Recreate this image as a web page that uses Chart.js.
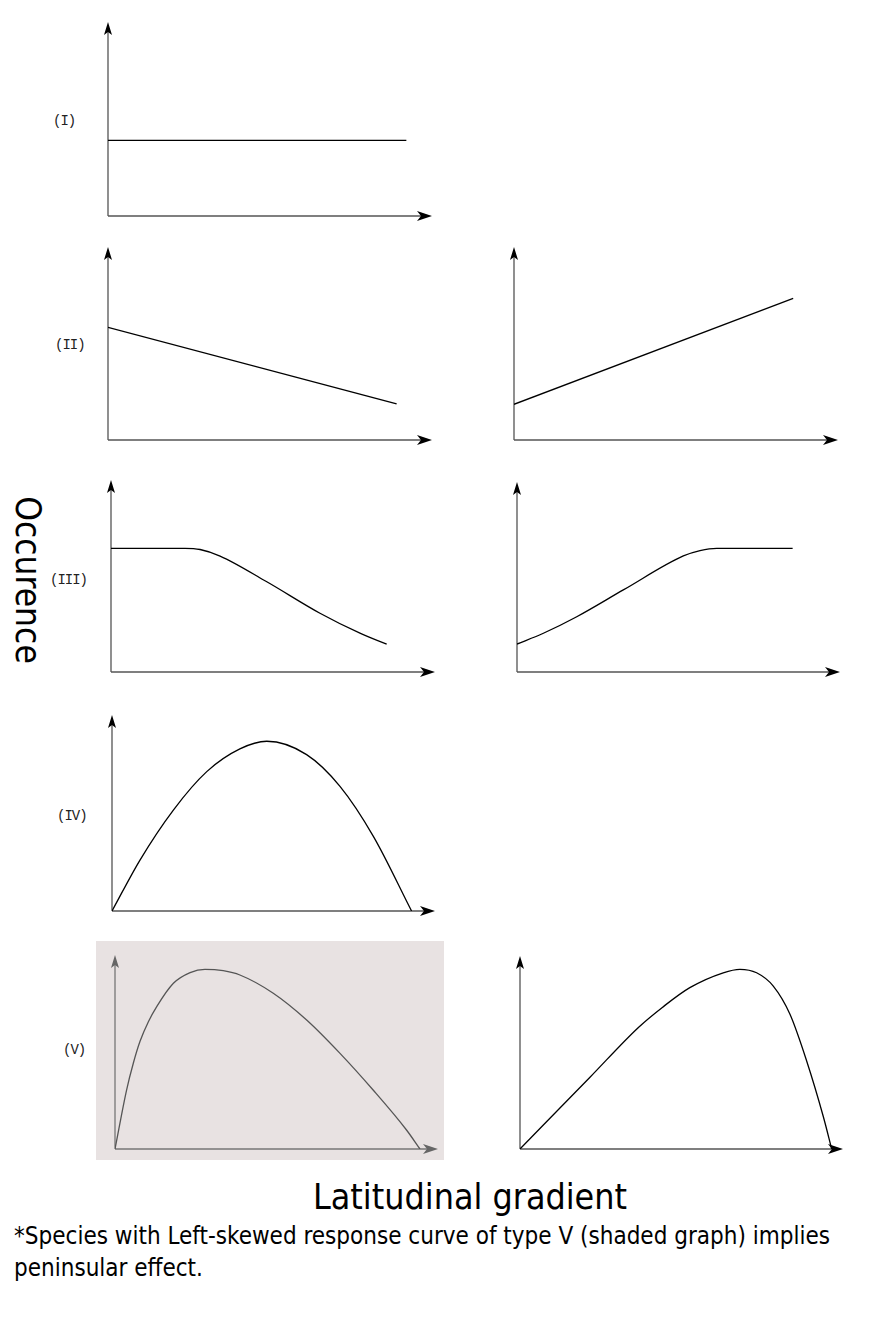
<!DOCTYPE html>
<html>
<head>
<meta charset="utf-8">
<script src="https://cdn.jsdelivr.net/npm/chart.js@4.4.1/dist/chart.umd.min.js"></script>
<style>
  html, body { margin: 0; padding: 0; background: #fff; }
  #page { position: relative; width: 870px; height: 1323px; overflow: hidden; }
  canvas { position: absolute; }
  .lbl { position: absolute; font-family: "Liberation Mono", "DejaVu Sans Mono", monospace; font-size: 14px;
         letter-spacing: -1px; color: #222; line-height: 16px; }
  .shade { position: absolute; background: #e8e2e2; }
  .cond { font-family: "DejaVu Sans Condensed", "DejaVu Sans", sans-serif; font-stretch: condensed; color: #000; white-space: nowrap; }
  #ylab { position: absolute; left: 28px; top: 580px; transform: translate(-50%, -50%) rotate(90deg); font-size: 35px; }
  #xlab { position: absolute; left: 313px; top: 1175px; font-size: 35.5px; line-height: 44px; }
  #note { position: absolute; left: 14px; top: 1220px; font-size: 24px; line-height: 32px; }
</style>
</head>
<body>
<div id="page">
  <div class="shade" style="left:96px; top:941px; width:348px; height:219px;"></div>
  <div id="ylab" class="cond">Occurence</div>
  <div id="xlab" class="cond">Latitudinal gradient</div>
  <div id="note" class="cond">*Species with Left-skewed response curve of type V (shaded graph) implies<br>peninsular effect.</div>
</div>
<script>
// response curves: x = position along the latitudinal gradient (0..12), y = occurrence (0..10)
const typeI      = [{x: 0, y: 3.9}, {x: 11.05, y: 3.9}];
const typeIIdown = [{x: 0, y: 5.84}, {x: 10.69, y: 1.87}];
const typeIIup   = [{x: 0, y: 1.85}, {x: 10.34, y: 7.34}];
const typeIIIdown = [
    {x: 0, y: 6.44}, {x: 2.74, y: 6.44}, {x: 3.30, y: 6.38}, {x: 4.04, y: 6.04},
    {x: 5.77, y: 4.70}, {x: 7.74, y: 3.06}, {x: 9.22, y: 2.02}, {x: 10.21, y: 1.45}
];
const typeIIIup = [
    {x: 0, y: 1.47}, {x: 0.98, y: 2.04}, {x: 2.22, y: 2.91}, {x: 3.95, y: 4.32},
    {x: 6.18, y: 6.11}, {x: 6.80, y: 6.39}, {x: 7.42, y: 6.51}, {x: 10.24, y: 6.51}
];
const typeIV = [
    {x: 0, y: 0}, {x: 1.04, y: 2.60}, {x: 2.28, y: 5.15}, {x: 3.52, y: 7.11},
    {x: 4.75, y: 8.27}, {x: 5.75, y: 8.66}, {x: 7.23, y: 7.98}, {x: 8.47, y: 6.36},
    {x: 9.71, y: 3.81}, {x: 11.13, y: 0}
];
const typeVleft = [
    {x: 0, y: 0}, {x: 0.43, y: 3.04}, {x: 0.68, y: 4.42}, {x: 0.93, y: 5.55},
    {x: 1.24, y: 6.56}, {x: 1.55, y: 7.34}, {x: 2.17, y: 8.54}, {x: 2.79, y: 9.09},
    {x: 3.34, y: 9.26}, {x: 4.02, y: 9.19}, {x: 4.64, y: 8.97}, {x: 5.88, y: 8.03},
    {x: 7.12, y: 6.65}, {x: 8.36, y: 4.93}, {x: 9.59, y: 3.04}, {x: 10.83, y: 0.98},
    {x: 11.33, y: 0}
];
const typeVright = [
    {x: 0, y: 0}, {x: 2.60, y: 3.72}, {x: 4.40, y: 6.30}, {x: 5.30, y: 7.35},
    {x: 6.31, y: 8.36}, {x: 7.55, y: 9.13}, {x: 8.17, y: 9.31}, {x: 8.79, y: 9.13},
    {x: 9.41, y: 8.44}, {x: 10.03, y: 6.98}, {x: 10.65, y: 4.56}, {x: 11.27, y: 1.67},
    {x: 11.58, y: 0}
];
const xMax = 12;
const yMax = 10;

const typeLabels = ['(I)', '(II)', '(III)', '(IV)', '(V)'];

// where each little graph sits on the page: axis origin and arrow tips
const panels = [
    { data: typeI,       ox: 108, oy: 216,  tx: 432, ty: 22 },
    { data: typeIIdown,  ox: 108, oy: 440,  tx: 432, ty: 247 },
    { data: typeIIup,    ox: 514, oy: 440,  tx: 838, ty: 247 },
    { data: typeIIIdown, ox: 111, oy: 672,  tx: 435, ty: 480, smooth: true },
    { data: typeIIIup,   ox: 517, oy: 672,  tx: 840, ty: 482, smooth: true },
    { data: typeIV,      ox: 112, oy: 911,  tx: 435, ty: 715, smooth: true },
    { data: typeVleft,   ox: 115, oy: 1149, tx: 438, ty: 955, smooth: true, grey: true },
    { data: typeVright,  ox: 520, oy: 1149, tx: 843, ty: 956, smooth: true }
];
const labelPos = [[53, 121], [55, 345], [50, 580], [57, 816], [63, 1050]];

const page = document.getElementById('page');
typeLabels.forEach(function (t, i) {
    const d = document.createElement('div');
    d.className = 'lbl';
    d.textContent = t;
    d.style.left = labelPos[i][0] + 'px';
    d.style.top = (labelPos[i][1] - 8) + 'px';
    page.appendChild(d);
});

// axes with arrow heads, drawn from the chart's own scales
const arrowAxes = {
    id: 'arrowAxes',
    beforeDatasetsDraw(chart, args, opts) {
        const ctx = chart.ctx;
        const xs = chart.scales.x, ys = chart.scales.y;
        const x0 = xs.getPixelForValue(0), x1 = xs.getPixelForValue(xMax);
        const y0 = ys.getPixelForValue(0), y1 = ys.getPixelForValue(yMax);
        ctx.save();
        ctx.strokeStyle = opts.lineColor;
        ctx.lineWidth = 1.3;
        ctx.beginPath();
        ctx.moveTo(x0, y0); ctx.lineTo(x1 - 8, y0);
        ctx.moveTo(x0, y0); ctx.lineTo(x0, y1 + 8);
        ctx.stroke();
        ctx.fillStyle = opts.headColor;
        ctx.beginPath();
        ctx.moveTo(x1, y0);
        ctx.lineTo(x1 - 15, y0 - 5);
        ctx.lineTo(x1 - 11, y0);
        ctx.lineTo(x1 - 15, y0 + 5);
        ctx.closePath();
        ctx.fill();
        ctx.beginPath();
        ctx.moveTo(x0, y1);
        ctx.lineTo(x0 - 4, y1 + 13);
        ctx.lineTo(x0, y1 + 10);
        ctx.lineTo(x0 + 4, y1 + 13);
        ctx.closePath();
        ctx.fill();
        ctx.restore();
    }
};

const pad = 8;
panels.forEach(function (p) {
    const c = document.createElement('canvas');
    const w = (p.tx - p.ox) + 2 * pad;
    const h = (p.oy - p.ty) + 2 * pad;
    c.width = w; c.height = h;
    c.style.left = (p.ox - pad) + 'px';
    c.style.top = (p.ty - pad) + 'px';
    c.style.width = w + 'px';
    c.style.height = h + 'px';
    page.appendChild(c);

    new Chart(c.getContext('2d'), {
        type: 'line',
        data: {
            datasets: [{
                data: p.data,
                borderColor: p.grey ? '#555' : '#000',
                borderWidth: 1.3,
                pointRadius: 0,
                fill: false,
                cubicInterpolationMode: p.smooth ? 'monotone' : 'default',
                tension: 0
            }]
        },
        options: {
            responsive: false,
            animation: false,
            devicePixelRatio: 1,
            layout: { padding: pad },
            plugins: {
                legend: { display: false },
                tooltip: { enabled: false },
                arrowAxes: {
                    lineColor: p.grey ? '#777' : '#555',
                    headColor: p.grey ? '#666' : '#000'
                }
            },
            scales: {
                x: { type: 'linear', min: 0, max: xMax, display: false },
                y: { type: 'linear', min: 0, max: yMax, display: false }
            }
        },
        plugins: [arrowAxes]
    });
});
</script>
</body>
</html>
